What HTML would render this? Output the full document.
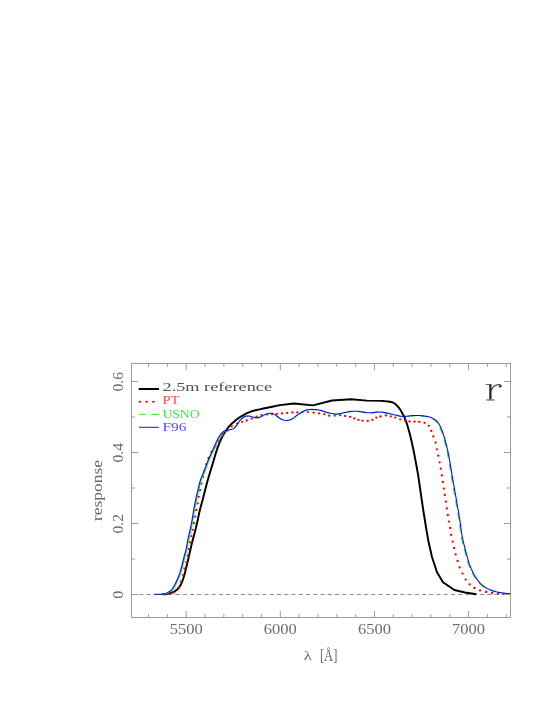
<!DOCTYPE html>
<html><head><meta charset="utf-8"><title>r</title><style>html,body{margin:0;padding:0;background:#fff}body{width:545px;height:705px;overflow:hidden}</style></head><body><div style="will-change:transform;width:545px;height:705px">
<svg width="545" height="705" viewBox="0 0 545 705" style="display:block">
<path d="M131.50,594.5 H510.50" stroke="#8c8c8c" stroke-width="1" stroke-dasharray="4.1 3.15" stroke-dashoffset="-0.5" fill="none"/>
<path d="M162.10,594.40 L162.40,594.39 L162.79,594.39 L163.25,594.39 L163.77,594.38 L164.32,594.36 L164.89,594.33 L165.46,594.28 L166.00,594.20 L166.54,594.09 L167.09,593.96 L167.66,593.81 L168.23,593.64 L168.81,593.47 L169.38,593.28 L169.95,593.09 L170.50,592.90 L171.04,592.72 L171.57,592.55 L172.10,592.37 L172.62,592.19 L173.14,591.99 L173.66,591.76 L174.18,591.50 L174.70,591.20 L175.23,590.87 L175.77,590.51 L176.31,590.14 L176.86,589.73 L177.39,589.29 L177.91,588.81 L178.42,588.28 L178.90,587.70 L179.36,587.06 L179.82,586.34 L180.26,585.58 L180.68,584.78 L181.09,583.96 L181.48,583.13 L181.85,582.30 L182.20,581.50 L182.52,580.71 L182.82,579.91 L183.09,579.11 L183.35,578.31 L183.59,577.51 L183.83,576.70 L184.06,575.90 L184.30,575.10 L184.53,574.30 L184.76,573.50 L184.98,572.70 L185.19,571.90 L185.39,571.10 L185.60,570.30 L185.80,569.50 L186.00,568.70 L186.20,567.90 L186.39,567.10 L186.58,566.31 L186.76,565.51 L186.95,564.71 L187.13,563.91 L187.31,563.11 L187.50,562.30 L187.69,561.49 L187.87,560.67 L188.06,559.85 L188.24,559.02 L188.43,558.20 L188.62,557.37 L188.81,556.54 L189.00,555.70 L189.20,554.86 L189.40,554.01 L189.60,553.15 L189.80,552.29 L190.00,551.44 L190.20,550.58 L190.40,549.74 L190.60,548.90 L190.78,548.13 L190.93,547.44 L191.07,546.79 L191.21,546.12 L191.37,545.40 L191.57,544.57 L191.80,543.59 L192.10,542.40 L192.46,541.00 L192.88,539.44 L193.35,537.74 L193.84,535.92 L194.36,534.01 L194.88,532.04 L195.40,530.03 L195.90,528.00 L196.40,525.87 L196.92,523.57 L197.44,521.17 L197.97,518.73 L198.49,516.33 L198.99,514.03 L199.46,511.90 L199.90,510.00 L200.28,508.42 L200.61,507.13 L200.91,506.03 L201.19,505.03 L201.48,504.01 L201.79,502.88 L202.16,501.54 L202.60,499.90 L203.12,497.91 L203.69,495.67 L204.32,493.23 L204.97,490.67 L205.64,488.07 L206.31,485.50 L206.97,483.01 L207.60,480.70 L208.21,478.54 L208.81,476.46 L209.41,474.44 L210.00,472.46 L210.59,470.51 L211.19,468.56 L211.79,466.60 L212.40,464.60 L213.01,462.55 L213.63,460.46 L214.26,458.35 L214.88,456.25 L215.51,454.18 L216.14,452.16 L216.77,450.23 L217.40,448.40 L218.03,446.67 L218.65,445.02 L219.27,443.43 L219.89,441.91 L220.52,440.44 L221.16,439.02 L221.82,437.64 L222.50,436.30 L223.21,435.00 L223.93,433.74 L224.68,432.53 L225.44,431.37 L226.20,430.25 L226.97,429.19 L227.74,428.17 L228.50,427.20 L229.25,426.30 L230.00,425.46 L230.74,424.68 L231.49,423.95 L232.24,423.25 L233.01,422.56 L233.79,421.89 L234.60,421.20 L235.42,420.51 L236.24,419.85 L237.07,419.19 L237.91,418.55 L238.78,417.92 L239.68,417.30 L240.62,416.70 L241.60,416.10 L242.63,415.50 L243.70,414.91 L244.81,414.32 L245.96,413.74 L247.12,413.19 L248.31,412.66 L249.50,412.16 L250.70,411.70 L251.91,411.29 L253.15,410.91 L254.41,410.57 L255.69,410.26 L256.97,409.96 L258.25,409.67 L259.53,409.39 L260.80,409.10 L262.07,408.81 L263.35,408.54 L264.63,408.27 L265.91,408.01 L267.19,407.75 L268.45,407.50 L269.69,407.25 L270.90,407.00 L272.15,406.74 L273.46,406.47 L274.79,406.19 L276.08,405.92 L277.30,405.66 L278.39,405.44 L279.30,405.25 L280.00,405.10 L294.00,403.50 L313.00,405.40 L332.00,400.50 L351.00,399.30 L367.00,400.60 L382.10,400.90 L382.91,400.99 L384.03,401.10 L385.37,401.23 L386.84,401.38 L388.34,401.55 L389.80,401.76 L391.11,402.01 L392.20,402.30 L393.08,402.63 L393.83,403.00 L394.49,403.41 L395.07,403.84 L395.62,404.31 L396.13,404.81 L396.65,405.34 L397.20,405.90 L397.76,406.48 L398.29,407.08 L398.81,407.71 L399.31,408.37 L399.81,409.07 L400.30,409.80 L400.80,410.58 L401.30,411.40 L401.81,412.27 L402.33,413.20 L402.85,414.17 L403.37,415.17 L403.88,416.21 L404.37,417.26 L404.85,418.33 L405.30,419.40 L405.72,420.46 L406.12,421.53 L406.49,422.60 L406.86,423.69 L407.21,424.82 L407.57,425.99 L407.93,427.21 L408.30,428.50 L408.69,429.87 L409.08,431.31 L409.48,432.82 L409.88,434.36 L410.27,435.93 L410.66,437.50 L411.04,439.07 L411.40,440.60 L411.74,442.08 L412.07,443.51 L412.39,444.91 L412.69,446.33 L413.00,447.79 L413.32,449.32 L413.65,450.94 L414.00,452.70 L414.38,454.65 L414.79,456.80 L415.22,459.08 L415.66,461.41 L416.08,463.73 L416.49,465.97 L416.87,468.05 L417.20,469.90 L417.47,471.42 L417.69,472.63 L417.87,473.66 L418.03,474.61 L418.20,475.62 L418.38,476.81 L418.61,478.29 L418.90,480.20 L419.25,482.57 L419.65,485.32 L420.08,488.34 L420.54,491.56 L421.01,494.86 L421.48,498.16 L421.95,501.38 L422.40,504.40 L422.85,507.33 L423.30,510.29 L423.77,513.25 L424.22,516.16 L424.68,518.99 L425.11,521.70 L425.52,524.25 L425.90,526.60 L426.26,528.80 L426.61,530.92 L426.95,532.93 L427.27,534.79 L427.56,536.47 L427.81,537.96 L428.03,539.21 L428.20,540.20 L432.00,557.00 L437.00,572.20 L443.00,582.20 L454.40,590.00 L465.00,592.50 L476.40,594.20" stroke="#000" stroke-width="1.95" fill="none" stroke-linejoin="round" stroke-linecap="butt"/>
<ellipse cx="167.60" cy="593.60" rx="1.2" ry="1.15" fill="#ff0000"/>
<ellipse cx="173.80" cy="592.60" rx="1.2" ry="1.15" fill="#ff0000"/>
<ellipse cx="178.30" cy="587.70" rx="1.2" ry="1.15" fill="#ff0000"/>
<ellipse cx="181.10" cy="581.50" rx="1.2" ry="1.15" fill="#ff0000"/>
<ellipse cx="183.00" cy="575.10" rx="1.2" ry="1.15" fill="#ff0000"/>
<ellipse cx="184.60" cy="568.70" rx="1.2" ry="1.15" fill="#ff0000"/>
<ellipse cx="186.20" cy="562.30" rx="1.2" ry="1.15" fill="#ff0000"/>
<ellipse cx="187.70" cy="555.70" rx="1.2" ry="1.15" fill="#ff0000"/>
<ellipse cx="188.90" cy="548.90" rx="1.2" ry="1.15" fill="#ff0000"/>
<ellipse cx="190.20" cy="542.40" rx="1.2" ry="1.15" fill="#ff0000"/>
<ellipse cx="191.50" cy="536.20" rx="1.2" ry="1.15" fill="#ff0000"/>
<ellipse cx="192.70" cy="529.80" rx="1.2" ry="1.15" fill="#ff0000"/>
<ellipse cx="193.90" cy="523.20" rx="1.2" ry="1.15" fill="#ff0000"/>
<ellipse cx="195.10" cy="516.60" rx="1.2" ry="1.15" fill="#ff0000"/>
<ellipse cx="196.40" cy="510.00" rx="1.2" ry="1.15" fill="#ff0000"/>
<ellipse cx="197.60" cy="503.40" rx="1.2" ry="1.15" fill="#ff0000"/>
<ellipse cx="198.80" cy="496.80" rx="1.2" ry="1.15" fill="#ff0000"/>
<ellipse cx="200.00" cy="490.20" rx="1.2" ry="1.15" fill="#ff0000"/>
<ellipse cx="201.40" cy="483.60" rx="1.2" ry="1.15" fill="#ff0000"/>
<ellipse cx="203.10" cy="476.80" rx="1.2" ry="1.15" fill="#ff0000"/>
<ellipse cx="204.60" cy="470.60" rx="1.2" ry="1.15" fill="#ff0000"/>
<ellipse cx="206.40" cy="464.20" rx="1.2" ry="1.15" fill="#ff0000"/>
<ellipse cx="208.50" cy="457.90" rx="1.2" ry="1.15" fill="#ff0000"/>
<ellipse cx="211.50" cy="451.80" rx="1.2" ry="1.15" fill="#ff0000"/>
<ellipse cx="215.40" cy="446.40" rx="1.2" ry="1.15" fill="#ff0000"/>
<ellipse cx="219.10" cy="441.00" rx="1.2" ry="1.15" fill="#ff0000"/>
<ellipse cx="222.90" cy="435.70" rx="1.2" ry="1.15" fill="#ff0000"/>
<ellipse cx="226.80" cy="431.00" rx="1.2" ry="1.15" fill="#ff0000"/>
<ellipse cx="231.70" cy="426.40" rx="1.2" ry="1.15" fill="#ff0000"/>
<ellipse cx="237.10" cy="423.60" rx="1.2" ry="1.15" fill="#ff0000"/>
<ellipse cx="242.00" cy="421.80" rx="1.2" ry="1.15" fill="#ff0000"/>
<ellipse cx="246.70" cy="420.50" rx="1.2" ry="1.15" fill="#ff0000"/>
<ellipse cx="251.65" cy="418.70" rx="1.2" ry="1.15" fill="#ff0000"/>
<ellipse cx="256.60" cy="416.70" rx="1.2" ry="1.15" fill="#ff0000"/>
<ellipse cx="261.56" cy="414.90" rx="1.2" ry="1.15" fill="#ff0000"/>
<ellipse cx="267.07" cy="414.60" rx="1.2" ry="1.15" fill="#ff0000"/>
<ellipse cx="272.00" cy="414.30" rx="1.2" ry="1.15" fill="#ff0000"/>
<ellipse cx="276.97" cy="413.80" rx="1.2" ry="1.15" fill="#ff0000"/>
<ellipse cx="281.90" cy="413.40" rx="1.2" ry="1.15" fill="#ff0000"/>
<ellipse cx="287.20" cy="413.00" rx="1.2" ry="1.15" fill="#ff0000"/>
<ellipse cx="292.40" cy="412.40" rx="1.2" ry="1.15" fill="#ff0000"/>
<ellipse cx="297.30" cy="412.40" rx="1.2" ry="1.15" fill="#ff0000"/>
<ellipse cx="302.60" cy="412.10" rx="1.2" ry="1.15" fill="#ff0000"/>
<ellipse cx="307.75" cy="412.10" rx="1.2" ry="1.15" fill="#ff0000"/>
<ellipse cx="313.60" cy="412.70" rx="1.2" ry="1.15" fill="#ff0000"/>
<ellipse cx="319.10" cy="413.40" rx="1.2" ry="1.15" fill="#ff0000"/>
<ellipse cx="324.30" cy="414.30" rx="1.2" ry="1.15" fill="#ff0000"/>
<ellipse cx="329.20" cy="415.70" rx="1.2" ry="1.15" fill="#ff0000"/>
<ellipse cx="334.70" cy="415.60" rx="1.2" ry="1.15" fill="#ff0000"/>
<ellipse cx="340.20" cy="415.20" rx="1.2" ry="1.15" fill="#ff0000"/>
<ellipse cx="345.20" cy="416.00" rx="1.2" ry="1.15" fill="#ff0000"/>
<ellipse cx="350.10" cy="416.80" rx="1.2" ry="1.15" fill="#ff0000"/>
<ellipse cx="354.20" cy="418.40" rx="1.2" ry="1.15" fill="#ff0000"/>
<ellipse cx="358.40" cy="419.80" rx="1.2" ry="1.15" fill="#ff0000"/>
<ellipse cx="362.50" cy="420.70" rx="1.2" ry="1.15" fill="#ff0000"/>
<ellipse cx="367.70" cy="420.90" rx="1.2" ry="1.15" fill="#ff0000"/>
<ellipse cx="372.30" cy="419.80" rx="1.2" ry="1.15" fill="#ff0000"/>
<ellipse cx="376.30" cy="417.60" rx="1.2" ry="1.15" fill="#ff0000"/>
<ellipse cx="380.40" cy="416.50" rx="1.2" ry="1.15" fill="#ff0000"/>
<ellipse cx="385.90" cy="415.40" rx="1.2" ry="1.15" fill="#ff0000"/>
<ellipse cx="390.80" cy="416.30" rx="1.2" ry="1.15" fill="#ff0000"/>
<ellipse cx="395.20" cy="417.60" rx="1.2" ry="1.15" fill="#ff0000"/>
<ellipse cx="400.20" cy="419.30" rx="1.2" ry="1.15" fill="#ff0000"/>
<ellipse cx="405.10" cy="420.70" rx="1.2" ry="1.15" fill="#ff0000"/>
<ellipse cx="409.50" cy="421.50" rx="1.2" ry="1.15" fill="#ff0000"/>
<ellipse cx="414.50" cy="421.70" rx="1.2" ry="1.15" fill="#ff0000"/>
<ellipse cx="419.30" cy="421.90" rx="1.2" ry="1.15" fill="#ff0000"/>
<ellipse cx="424.60" cy="422.80" rx="1.2" ry="1.15" fill="#ff0000"/>
<ellipse cx="428.80" cy="425.80" rx="1.2" ry="1.15" fill="#ff0000"/>
<ellipse cx="431.30" cy="430.90" rx="1.2" ry="1.15" fill="#ff0000"/>
<ellipse cx="433.30" cy="436.40" rx="1.2" ry="1.15" fill="#ff0000"/>
<ellipse cx="435.60" cy="442.60" rx="1.2" ry="1.15" fill="#ff0000"/>
<ellipse cx="437.00" cy="449.30" rx="1.2" ry="1.15" fill="#ff0000"/>
<ellipse cx="438.20" cy="455.70" rx="1.2" ry="1.15" fill="#ff0000"/>
<ellipse cx="439.60" cy="462.30" rx="1.2" ry="1.15" fill="#ff0000"/>
<ellipse cx="440.80" cy="468.70" rx="1.2" ry="1.15" fill="#ff0000"/>
<ellipse cx="441.80" cy="475.40" rx="1.2" ry="1.15" fill="#ff0000"/>
<ellipse cx="442.80" cy="482.00" rx="1.2" ry="1.15" fill="#ff0000"/>
<ellipse cx="443.80" cy="488.60" rx="1.2" ry="1.15" fill="#ff0000"/>
<ellipse cx="444.80" cy="495.00" rx="1.2" ry="1.15" fill="#ff0000"/>
<ellipse cx="445.80" cy="501.70" rx="1.2" ry="1.15" fill="#ff0000"/>
<ellipse cx="446.80" cy="508.40" rx="1.2" ry="1.15" fill="#ff0000"/>
<ellipse cx="447.80" cy="515.00" rx="1.2" ry="1.15" fill="#ff0000"/>
<ellipse cx="449.00" cy="521.60" rx="1.2" ry="1.15" fill="#ff0000"/>
<ellipse cx="450.00" cy="528.00" rx="1.2" ry="1.15" fill="#ff0000"/>
<ellipse cx="451.20" cy="535.00" rx="1.2" ry="1.15" fill="#ff0000"/>
<ellipse cx="452.60" cy="541.60" rx="1.2" ry="1.15" fill="#ff0000"/>
<ellipse cx="454.00" cy="548.00" rx="1.2" ry="1.15" fill="#ff0000"/>
<ellipse cx="455.60" cy="554.40" rx="1.2" ry="1.15" fill="#ff0000"/>
<ellipse cx="457.60" cy="561.00" rx="1.2" ry="1.15" fill="#ff0000"/>
<ellipse cx="459.60" cy="567.40" rx="1.2" ry="1.15" fill="#ff0000"/>
<ellipse cx="462.40" cy="573.60" rx="1.2" ry="1.15" fill="#ff0000"/>
<ellipse cx="465.60" cy="579.60" rx="1.2" ry="1.15" fill="#ff0000"/>
<ellipse cx="469.60" cy="584.40" rx="1.2" ry="1.15" fill="#ff0000"/>
<ellipse cx="474.40" cy="588.00" rx="1.2" ry="1.15" fill="#ff0000"/>
<ellipse cx="480.00" cy="590.40" rx="1.2" ry="1.15" fill="#ff0000"/>
<ellipse cx="486.00" cy="592.00" rx="1.2" ry="1.15" fill="#ff0000"/>
<ellipse cx="492.00" cy="593.00" rx="1.2" ry="1.15" fill="#ff0000"/>
<ellipse cx="498.00" cy="593.60" rx="1.2" ry="1.15" fill="#ff0000"/>
<ellipse cx="504.00" cy="594.00" rx="1.2" ry="1.15" fill="#ff0000"/>
<ellipse cx="509.40" cy="594.10" rx="1.2" ry="1.15" fill="#ff0000"/>
<path d="M154.85,594.50 L155.32,594.50 L155.95,594.49 L156.70,594.49 L157.54,594.48 L158.41,594.47 L159.28,594.46 L160.11,594.43 L160.85,594.40 L161.52,594.37 L162.17,594.35 L162.80,594.34 L163.41,594.31 L164.02,594.27 L164.62,594.19 L165.23,594.07 L165.85,593.90 L166.49,593.67 L167.15,593.39 L167.81,593.08 L168.47,592.73 L169.12,592.35 L169.74,591.97 L170.32,591.58 L170.85,591.20 L171.32,590.83 L171.75,590.46 L172.13,590.09 L172.49,589.70 L172.83,589.30 L173.16,588.87 L173.50,588.40 L173.85,587.90 L174.20,587.37 L174.55,586.83 L174.88,586.27 L175.21,585.68 L175.55,585.05 L175.90,584.36 L176.26,583.62 L176.65,582.80 L177.07,581.89 L177.52,580.89 L177.99,579.83 L178.47,578.71 L178.95,577.57 L179.41,576.43 L179.85,575.29 L180.25,574.20 L180.62,573.13 L180.96,572.07 L181.29,571.01 L181.59,569.94 L181.89,568.88 L182.18,567.82 L182.46,566.76 L182.75,565.70 L183.03,564.64 L183.30,563.58 L183.56,562.51 L183.82,561.45 L184.07,560.39 L184.33,559.33 L184.59,558.26 L184.85,557.20 L185.12,556.14 L185.41,555.08 L185.69,554.01 L185.98,552.95 L186.26,551.89 L186.54,550.83 L186.80,549.76 L187.05,548.70 L187.27,547.69 L187.45,546.75 L187.61,545.84 L187.77,544.92 L187.94,543.94 L188.13,542.85 L188.36,541.62 L188.65,540.20 L189.00,538.57 L189.40,536.77 L189.84,534.84 L190.31,532.79 L190.78,530.68 L191.26,528.52 L191.72,526.35 L192.15,524.20 L192.56,522.02 L192.96,519.75 L193.35,517.42 L193.73,515.08 L194.11,512.74 L194.49,510.47 L194.87,508.27 L195.25,506.20 L195.63,504.24 L196.01,502.37 L196.38,500.56 L196.76,498.81 L197.13,497.11 L197.50,495.45 L197.88,493.82 L198.25,492.20 L198.63,490.59 L199.01,488.98 L199.39,487.40 L199.77,485.86 L200.15,484.37 L200.52,482.95 L200.89,481.63 L201.25,480.40 L201.60,479.30 L201.95,478.32 L202.29,477.43 L202.63,476.61 L202.97,475.84 L203.30,475.07 L203.62,474.31 L203.95,473.50 L204.27,472.68 L204.58,471.88 L204.89,471.09 L205.20,470.31 L205.51,469.53 L205.82,468.74 L206.13,467.93 L206.45,467.10 L206.77,466.25 L207.09,465.40 L207.41,464.53 L207.73,463.66 L208.06,462.77 L208.41,461.86 L208.77,460.94 L209.15,460.00 L209.56,459.03 L209.99,458.04 L210.44,457.02 L210.90,455.99 L211.37,454.95 L211.84,453.92 L212.30,452.90 L212.75,451.90 L213.20,450.91 L213.65,449.91 L214.10,448.91 L214.54,447.92 L214.99,446.95 L215.42,446.00 L215.84,445.08 L216.25,444.20 L216.64,443.35 L217.02,442.53 L217.39,441.74 L217.76,440.97 L218.11,440.23 L218.46,439.52 L218.81,438.84 L219.15,438.20 L219.49,437.59 L219.83,437.02 L220.16,436.48 L220.48,435.97 L220.80,435.49 L221.12,435.03 L221.44,434.60 L221.75,434.20 L222.06,433.82 L222.37,433.48 L222.67,433.16 L222.12,433.02 L222.42,432.76 L222.71,432.51 L223.01,432.27 L223.30,432.05 L223.58,431.84 L223.84,431.66 M224.10,431.50 L224.55,431.25 L225.03,431.05 L225.52,430.88 L226.02,430.74 L226.53,430.64 L227.04,430.56 L227.55,430.48 L228.07,430.41 L228.58,430.33 L229.09,430.24 L229.59,430.13 M234.49,428.13 L234.84,427.77 L235.17,427.39 L235.49,427.01 L235.81,426.62 L236.11,426.22 L236.42,425.83 L236.73,425.44 L237.03,425.04 L237.33,424.63 L237.61,424.22 L237.89,423.81 L238.16,423.39 L238.43,422.97 L238.71,422.55 M242.24,418.49 L242.62,418.17 L243.02,417.87 L243.42,417.58 L243.84,417.31 L244.27,417.06 L244.72,416.83 L245.19,416.65 L245.66,416.50 L246.15,416.40 L246.65,416.34 L247.15,416.31 L247.65,416.32 L248.15,416.34 L248.65,416.39 M253.87,417.68 L254.36,417.76 L254.86,417.84 L255.35,417.92 L255.85,417.98 L256.35,418.02 L256.85,418.03 L257.35,418.02 L257.84,417.98 L258.34,417.90 L258.82,417.78 L259.30,417.64 L259.77,417.46 L260.23,417.27 L260.69,417.07 M265.57,414.77 L266.03,414.57 L266.50,414.39 L266.97,414.23 L267.45,414.09 L267.93,413.95 L268.42,413.83 L268.91,413.73 L269.40,413.64 L269.89,413.58 L270.39,413.54 L270.89,413.53 L271.39,413.56 L271.89,413.64 L272.37,413.76 M276.98,416.51 L277.40,416.85 L277.82,417.19 L278.24,417.52 L278.67,417.84 L279.12,418.15 L279.57,418.44 L280.03,418.71 L280.51,418.96 L280.99,419.21 L281.47,419.45 L281.96,419.67 L282.45,419.89 L282.95,420.10 M288.23,420.64 L288.71,420.52 L289.20,420.39 L289.67,420.23 L290.14,420.06 L290.61,419.88 L291.07,419.68 L291.52,419.48 L291.97,419.26 L292.42,419.03 L292.85,418.78 L293.27,418.52 L293.69,418.24 L294.09,417.94 L294.49,417.64 M298.82,414.41 L299.24,414.14 L299.65,413.87 L300.07,413.59 L300.49,413.32 L300.91,413.05 L301.34,412.79 L301.76,412.52 L302.19,412.27 L302.62,412.02 L303.06,411.78 L303.50,411.54 L303.95,411.32 L304.41,411.11 L304.87,410.92 M310.13,409.82 L310.63,409.79 L311.13,409.77 L311.63,409.76 L312.13,409.75 L312.63,409.75 L313.13,409.76 L313.63,409.78 L314.13,409.81 L314.63,409.85 L315.12,409.90 L315.62,409.95 L316.12,410.01 L316.61,410.07 L317.11,410.14 M322.39,411.25 L322.87,411.40 L323.34,411.55 L323.82,411.71 L324.29,411.87 L324.76,412.03 L325.24,412.19 L325.71,412.35 L326.19,412.50 L326.66,412.65 L327.14,412.79 L327.62,412.93 L328.11,413.05 L328.59,413.17 L329.08,413.28 M334.40,414.22 L334.90,414.27 L335.39,414.30 L335.89,414.33 L336.39,414.34 L336.89,414.34 L337.39,414.32 L337.89,414.28 L338.39,414.23 L338.88,414.16 L339.38,414.08 L339.87,413.98 L340.36,413.88 L340.84,413.77 L341.33,413.66 M346.61,412.50 L347.09,412.39 L347.58,412.28 L348.07,412.17 L348.56,412.07 L349.05,411.98 L349.54,411.90 L350.04,411.83 L350.53,411.77 L351.03,411.72 L351.53,411.68 L352.03,411.65 L352.53,411.62 L353.03,411.60 L353.53,411.59 M358.92,411.76 L359.42,411.82 L359.92,411.87 L360.41,411.94 L360.91,412.01 L361.40,412.09 L361.89,412.17 L362.39,412.25 L362.88,412.34 L363.37,412.43 L363.86,412.51 L364.36,412.60 L364.85,412.68 L365.34,412.76 L365.84,412.84 M371.22,413.07 L371.72,413.02 L372.21,412.97 L372.71,412.91 L373.20,412.84 L373.70,412.78 L374.20,412.71 L374.69,412.64 L375.19,412.58 L375.68,412.52 L376.18,412.46 L376.68,412.42 L377.18,412.38 L377.68,412.37 L378.18,412.35 M383.56,412.75 L384.05,412.82 L384.55,412.89 L385.04,412.97 L385.53,413.05 L386.03,413.14 L386.52,413.23 L387.01,413.33 L387.50,413.44 L387.98,413.55 L388.47,413.67 L388.95,413.80 L389.44,413.92 L389.92,414.06 L390.40,414.19 M395.65,415.47 L396.13,415.57 L396.62,415.68 L397.11,415.79 L397.60,415.90 L398.09,416.00 L398.58,416.10 L399.07,416.20 L399.56,416.29 L400.05,416.38 L400.55,416.46 L401.04,416.53 L401.54,416.59 L402.03,416.65 L402.53,416.69 M407.91,416.45 L408.41,416.38 L408.90,416.32 L409.40,416.25 L409.90,416.19 L410.39,416.13 L410.89,416.07 L411.39,416.02 L411.89,415.99 L412.38,415.95 L412.88,415.93 L413.38,415.91 L413.88,415.89 L414.38,415.87 L414.88,415.86 M420.28,415.94 L420.78,415.97 L421.28,416.01 L421.77,416.06 L422.27,416.11 L422.77,416.16 L423.27,416.21 L423.76,416.27 L424.26,416.34 L424.75,416.41 L425.25,416.48 L425.74,416.56 L426.23,416.65 L426.73,416.74 L427.21,416.85 M432.00,418.58 L432.44,418.80 L432.88,419.05 L433.31,419.31 L433.73,419.57 L434.14,419.86 L434.54,420.16 L434.93,420.48 L435.30,420.81 L435.66,421.16 L436.01,421.51 L436.35,421.88 L436.66,422.27 L436.98,422.66 L437.28,423.06 M439.91,427.76 L440.11,428.22 L440.30,428.68 L440.49,429.14 L440.68,429.60 L440.87,430.07 L441.05,430.53 L441.23,431.00 L441.41,431.47 L441.58,431.94 L441.75,432.41 L441.92,432.88 L442.09,433.35 L442.25,433.82 L442.41,434.30 M444.00,439.46 L444.13,439.94 L444.26,440.42 L444.39,440.90 L444.52,441.39 L444.65,441.87 L444.77,442.35 L444.90,442.84 L445.02,443.32 L445.14,443.81 L445.26,444.29 L445.38,444.78 L445.50,445.27 L445.61,445.75 L445.73,446.24 M446.95,451.50 L447.05,451.99 L447.16,452.48 L447.27,452.96 L447.38,453.45 L447.48,453.94 L447.58,454.43 L447.68,454.92 L447.78,455.41 L447.88,455.90 L447.97,456.39 L448.06,456.88 L448.16,457.38 L448.25,457.87 L448.34,458.36 M449.27,463.68 L449.35,464.17 L449.43,464.67 L449.51,465.16 L449.59,465.65 L449.67,466.15 L449.75,466.64 L449.83,467.13 L449.91,467.63 L449.99,468.12 L450.07,468.61 L450.15,469.11 L450.23,469.60 L450.31,470.09 L450.39,470.59 M451.26,475.92 L451.34,476.41 L451.42,476.90 L451.50,477.40 L451.58,477.89 L451.67,478.38 L451.75,478.88 L451.83,479.37 L451.92,479.86 L452.00,480.36 L452.09,480.85 L452.17,481.34 L452.26,481.83 L452.34,482.33 L452.43,482.82 M453.38,488.14 L453.47,488.63 L453.55,489.12 L453.64,489.61 L453.73,490.10 L453.82,490.60 L453.91,491.09 L454.00,491.58 L454.09,492.07 L454.18,492.56 L454.27,493.06 L454.36,493.55 L454.44,494.04 L454.53,494.53 L454.62,495.02 M455.56,500.34 L455.65,500.83 L455.73,501.33 L455.82,501.82 L455.91,502.31 L455.99,502.80 L456.08,503.30 L456.16,503.79 L456.25,504.28 L456.33,504.77 L456.42,505.27 L456.50,505.76 L456.59,506.25 L456.67,506.75 L456.76,507.24 M457.67,512.56 L457.75,513.05 L457.84,513.55 L457.92,514.04 L458.00,514.53 L458.09,515.03 L458.17,515.52 L458.25,516.01 L458.33,516.51 L458.41,517.00 L458.49,517.49 L458.57,517.99 L458.65,518.48 L458.73,518.97 L458.81,519.47 M459.59,524.81 L459.66,525.31 L459.72,525.80 L459.78,526.30 L459.85,526.79 L459.91,527.29 L459.97,527.79 L460.03,528.28 L460.09,528.78 L460.16,529.27 L460.22,529.77 L460.28,530.27 L460.35,530.76 L460.42,531.26 L460.48,531.75 M461.36,537.08 L461.46,537.57 L461.56,538.06 L461.66,538.55 L461.77,539.04 L461.87,539.53 L461.98,540.02 L462.09,540.50 L462.20,540.99 L462.31,541.48 L462.43,541.96 L462.55,542.45 L462.66,542.94 L462.78,543.42 L462.90,543.91 M464.26,549.14 L464.38,549.62 L464.51,550.10 L464.64,550.59 L464.76,551.07 L464.89,551.55 L465.01,552.04 L465.14,552.52 L465.26,553.01 L465.39,553.49 L465.51,553.97 L465.64,554.46 L465.76,554.94 L465.89,555.43 L466.02,555.91 M467.47,561.11 L467.62,561.59 L467.77,562.06 L467.92,562.54 L468.07,563.02 L468.24,563.49 L468.40,563.96 L468.56,564.44 L468.73,564.91 L468.91,565.37 L469.08,565.84 L469.26,566.31 L469.45,566.77 L469.63,567.24 L469.82,567.70 M472.06,572.61 L472.29,573.06 L472.52,573.50 L472.75,573.94 L472.99,574.38 L473.23,574.82 L473.48,575.26 L473.72,575.69 L473.98,576.12 L474.24,576.55 L474.50,576.98 L474.77,577.40 L475.04,577.82 L475.32,578.23 L475.60,578.65 M478.92,582.90 L479.26,583.27 L479.60,583.64 L479.94,583.99 L480.30,584.35 L480.66,584.69 L481.03,585.03 L481.40,585.36 L481.79,585.68 L482.18,585.99 L482.57,586.30 L482.98,586.59 L483.39,586.88 L483.81,587.15 L484.23,587.42 M489.05,589.84 L489.52,590.01 L489.99,590.18 L490.46,590.35 L490.93,590.51 L491.40,590.67 L491.88,590.82 L492.36,590.98 L492.83,591.13 L493.31,591.28 L493.79,591.43 L494.27,591.57 L494.75,591.71 L495.23,591.84 L495.71,591.97 M501.01,593.01 L501.50,593.07 L502.00,593.13 L502.49,593.19 L502.99,593.24 L503.49,593.30 L503.99,593.35 L504.48,593.40 L504.98,593.45 L505.48,593.49 L505.98,593.54 L506.48,593.58 L506.97,593.63 L507.47,593.67 L507.97,593.72" stroke="#14f014" stroke-width="1.05" fill="none"/>
<path d="M154.00,594.30 L154.47,594.30 L155.10,594.29 L155.85,594.29 L156.69,594.28 L157.56,594.27 L158.43,594.26 L159.26,594.23 L160.00,594.20 L160.67,594.17 L161.32,594.15 L161.95,594.14 L162.56,594.11 L163.17,594.07 L163.77,593.99 L164.38,593.87 L165.00,593.70 L165.64,593.47 L166.30,593.19 L166.96,592.88 L167.62,592.53 L168.27,592.15 L168.89,591.77 L169.47,591.38 L170.00,591.00 L170.47,590.63 L170.90,590.26 L171.28,589.89 L171.64,589.50 L171.98,589.10 L172.31,588.67 L172.65,588.20 L173.00,587.70 L173.35,587.17 L173.70,586.63 L174.03,586.07 L174.36,585.48 L174.70,584.85 L175.05,584.16 L175.41,583.42 L175.80,582.60 L176.22,581.69 L176.67,580.69 L177.14,579.63 L177.62,578.51 L178.10,577.37 L178.56,576.23 L179.00,575.09 L179.40,574.00 L179.77,572.93 L180.11,571.87 L180.44,570.81 L180.74,569.74 L181.04,568.68 L181.33,567.62 L181.61,566.56 L181.90,565.50 L182.18,564.44 L182.45,563.38 L182.71,562.31 L182.97,561.25 L183.22,560.19 L183.48,559.12 L183.74,558.06 L184.00,557.00 L184.27,555.94 L184.56,554.88 L184.84,553.81 L185.13,552.75 L185.41,551.69 L185.69,550.62 L185.95,549.56 L186.20,548.50 L186.42,547.49 L186.60,546.55 L186.76,545.64 L186.92,544.72 L187.09,543.74 L187.28,542.65 L187.51,541.42 L187.80,540.00 L188.15,538.37 L188.55,536.57 L188.99,534.64 L189.46,532.59 L189.93,530.48 L190.41,528.32 L190.87,526.15 L191.30,524.00 L191.71,521.82 L192.11,519.55 L192.50,517.22 L192.88,514.88 L193.26,512.54 L193.64,510.27 L194.02,508.07 L194.40,506.00 L194.78,504.04 L195.16,502.17 L195.53,500.36 L195.91,498.61 L196.28,496.91 L196.65,495.25 L197.03,493.62 L197.40,492.00 L197.78,490.39 L198.16,488.78 L198.54,487.20 L198.92,485.66 L199.30,484.17 L199.67,482.75 L200.04,481.43 L200.40,480.20 L200.75,479.10 L201.10,478.12 L201.44,477.23 L201.78,476.41 L202.12,475.64 L202.45,474.88 L202.77,474.11 L203.10,473.30 L203.42,472.48 L203.73,471.68 L204.04,470.89 L204.35,470.11 L204.66,469.33 L204.97,468.54 L205.28,467.73 L205.60,466.90 L205.92,466.05 L206.24,465.20 L206.56,464.33 L206.88,463.46 L207.21,462.57 L207.56,461.66 L207.92,460.74 L208.30,459.80 L208.71,458.83 L209.14,457.84 L209.59,456.82 L210.05,455.79 L210.52,454.75 L210.99,453.72 L211.45,452.70 L211.90,451.70 L212.35,450.71 L212.80,449.71 L213.25,448.71 L213.69,447.72 L214.14,446.75 L214.57,445.80 L214.99,444.88 L215.40,444.00 L215.79,443.15 L216.17,442.33 L216.54,441.54 L216.91,440.77 L217.26,440.03 L217.61,439.32 L217.96,438.64 L218.30,438.00 L218.64,437.39 L218.98,436.82 L219.31,436.28 L219.63,435.77 L219.95,435.29 L220.27,434.83 L220.59,434.40 L220.90,434.00 L221.21,433.62 L221.52,433.28 L221.82,432.96 L222.12,432.67 L222.42,432.41 L222.71,432.16 L223.01,431.92 L223.30,431.70 L223.58,431.49 L223.84,431.31 L224.10,431.15 L224.36,431.00 L224.62,430.87 L224.91,430.74 L225.24,430.62 L225.60,430.50 L226.01,430.39 L226.46,430.30 L226.94,430.22 L227.44,430.15 L227.96,430.08 L228.48,430.00 L229.00,429.91 L229.50,429.80 L230.00,429.69 L230.51,429.59 L231.02,429.49 L231.54,429.38 L232.05,429.25 L232.55,429.08 L233.03,428.87 L233.50,428.60 L233.94,428.28 L234.36,427.91 L234.77,427.50 L235.17,427.05 L235.56,426.57 L235.96,426.07 L236.37,425.54 L236.80,425.00 L237.24,424.41 L237.68,423.77 L238.13,423.09 L238.58,422.39 L239.04,421.69 L239.52,421.01 L240.00,420.37 L240.50,419.80 L241.02,419.27 L241.55,418.75 L242.10,418.26 L242.66,417.79 L243.22,417.37 L243.78,416.99 L244.35,416.66 L244.90,416.40 L245.45,416.20 L246.00,416.07 L246.55,415.99 L247.10,415.96 L247.65,415.97 L248.20,416.00 L248.75,416.04 L249.30,416.10 L249.85,416.18 L250.40,416.32 L250.95,416.48 L251.50,416.66 L252.05,416.85 L252.60,417.03 L253.15,417.18 L253.70,417.30 L254.25,417.39 L254.80,417.49 L255.35,417.57 L255.90,417.63 L256.45,417.67 L257.00,417.69 L257.55,417.66 L258.10,417.60 L258.65,417.49 L259.20,417.32 L259.75,417.12 L260.30,416.89 L260.85,416.65 L261.40,416.39 L261.95,416.14 L262.50,415.90 L263.05,415.66 L263.60,415.39 L264.15,415.11 L264.70,414.84 L265.25,414.57 L265.80,414.32 L266.35,414.09 L266.90,413.90 L267.45,413.74 L268.02,413.58 L268.58,413.45 L269.14,413.33 L269.70,413.24 L270.25,413.19 L270.78,413.17 L271.30,413.20 L271.79,413.27 L272.24,413.37 L272.68,413.50 L273.11,413.67 L273.54,413.88 L273.99,414.12 L274.48,414.39 L275.00,414.70 L275.56,415.07 L276.16,415.51 L276.77,416.00 L277.41,416.51 L278.06,417.03 L278.73,417.54 L279.41,418.00 L280.10,418.40 L280.81,418.77 L281.53,419.13 L282.28,419.47 L283.04,419.79 L283.80,420.06 L284.57,420.28 L285.34,420.43 L286.10,420.50 L286.86,420.49 L287.62,420.41 L288.38,420.26 L289.14,420.06 L289.91,419.80 L290.67,419.50 L291.44,419.17 L292.20,418.80 L292.96,418.38 L293.70,417.88 L294.45,417.33 L295.19,416.74 L295.95,416.14 L296.71,415.54 L297.49,414.95 L298.30,414.40 L299.13,413.86 L299.98,413.30 L300.85,412.74 L301.74,412.19 L302.63,411.66 L303.52,411.18 L304.41,410.75 L305.30,410.40 L306.18,410.12 L307.04,409.89 L307.91,409.72 L308.78,409.59 L309.66,409.50 L310.55,409.44 L311.46,409.41 L312.40,409.40 L313.37,409.42 L314.36,409.48 L315.37,409.57 L316.39,409.69 L317.43,409.83 L318.46,410.00 L319.49,410.19 L320.50,410.40 L321.50,410.64 L322.50,410.93 L323.50,411.25 L324.50,411.59 L325.50,411.93 L326.50,412.25 L327.50,412.55 L328.50,412.80 L329.51,413.02 L330.54,413.24 L331.57,413.44 L332.61,413.63 L333.63,413.78 L334.64,413.90 L335.63,413.97 L336.60,414.00 L337.54,413.97 L338.45,413.87 L339.34,413.73 L340.22,413.56 L341.09,413.37 L341.96,413.17 L342.82,412.98 L343.70,412.80 L344.57,412.62 L345.43,412.43 L346.28,412.23 L347.14,412.02 L348.00,411.83 L348.87,411.66 L349.77,411.51 L350.70,411.40 L351.65,411.32 L352.60,411.27 L353.57,411.24 L354.56,411.22 L355.57,411.24 L356.61,411.27 L357.68,411.32 L358.80,411.40 L359.97,411.52 L361.21,411.70 L362.48,411.92 L363.78,412.15 L365.09,412.37 L366.39,412.57 L367.67,412.72 L368.90,412.80 L370.10,412.79 L371.29,412.72 L372.47,412.59 L373.63,412.44 L374.78,412.28 L375.91,412.14 L377.01,412.04 L378.10,412.00 L379.16,412.02 L380.18,412.06 L381.18,412.13 L382.17,412.23 L383.15,412.34 L384.12,412.48 L385.10,412.63 L386.10,412.80 L387.10,413.00 L388.09,413.23 L389.09,413.48 L390.08,413.75 L391.08,414.03 L392.10,414.30 L393.14,414.56 L394.20,414.80 L395.29,415.04 L396.40,415.28 L397.54,415.53 L398.69,415.77 L399.84,415.99 L401.00,416.18 L402.16,416.32 L403.30,416.40 L404.44,416.41 L405.60,416.35 L406.76,416.24 L407.91,416.10 L409.06,415.95 L410.20,415.80 L411.31,415.68 L412.40,415.60 L413.46,415.55 L414.50,415.52 L415.52,415.49 L416.52,415.48 L417.51,415.48 L418.51,415.50 L419.50,415.54 L420.50,415.60 L421.52,415.68 L422.55,415.78 L423.59,415.90 L424.62,416.04 L425.64,416.19 L426.64,416.37 L427.59,416.57 L428.50,416.80 L429.37,417.05 L430.21,417.32 L431.02,417.61 L431.80,417.92 L432.55,418.25 L433.27,418.61 L433.95,418.99 L434.60,419.40 L435.21,419.83 L435.77,420.27 L436.30,420.74 L436.79,421.24 L437.27,421.76 L437.72,422.31 L438.16,422.89 L438.60,423.50 L439.02,424.14 L439.42,424.79 L439.79,425.47 L440.16,426.19 L440.51,426.94 L440.87,427.74 L441.23,428.59 L441.60,429.50 L441.98,430.47 L442.37,431.49 L442.76,432.55 L443.15,433.67 L443.54,434.83 L443.93,436.04 L444.32,437.30 L444.70,438.60 L445.09,439.98 L445.48,441.46 L445.88,443.01 L446.27,444.59 L446.65,446.18 L447.02,447.75 L447.37,449.26 L447.70,450.70 L447.99,451.99 L448.24,453.15 L448.47,454.23 L448.69,455.29 L448.91,456.42 L449.14,457.67 L449.40,459.11 L449.70,460.80 L450.04,462.77 L450.41,464.98 L450.79,467.36 L451.20,469.87 L451.62,472.46 L452.04,475.08 L452.47,477.67 L452.90,480.20 L453.33,482.69 L453.78,485.20 L454.23,487.72 L454.69,490.26 L455.15,492.80 L455.60,495.34 L456.06,497.87 L456.50,500.40 L456.94,502.95 L457.39,505.54 L457.84,508.14 L458.29,510.74 L458.72,513.30 L459.14,515.79 L459.53,518.20 L459.90,520.50 L460.22,522.67 L460.51,524.75 L460.76,526.74 L461.00,528.67 L461.24,530.55 L461.49,532.40 L461.78,534.25 L462.10,536.10 L462.46,537.94 L462.85,539.75 L463.26,541.53 L463.69,543.29 L464.13,545.04 L464.58,546.79 L465.04,548.54 L465.50,550.30 L465.96,552.09 L466.43,553.90 L466.91,555.73 L467.39,557.54 L467.89,559.34 L468.41,561.09 L468.94,562.78 L469.50,564.40 L470.08,565.95 L470.68,567.46 L471.29,568.91 L471.93,570.33 L472.57,571.69 L473.24,573.01 L473.91,574.28 L474.60,575.50 L475.31,576.68 L476.03,577.82 L476.78,578.91 L477.54,579.96 L478.30,580.95 L479.07,581.89 L479.84,582.78 L480.60,583.60 L481.35,584.35 L482.09,585.04 L482.84,585.66 L483.58,586.23 L484.33,586.76 L485.10,587.26 L485.89,587.74 L486.70,588.20 L487.54,588.64 L488.41,589.05 L489.29,589.43 L490.19,589.78 L491.10,590.11 L492.01,590.42 L492.91,590.71 L493.80,591.00 L494.66,591.27 L495.50,591.52 L496.32,591.75 L497.15,591.96 L498.00,592.16 L498.88,592.35 L499.81,592.53 L500.80,592.70 L501.93,592.87 L503.22,593.02 L504.60,593.17 L505.99,593.31 L507.32,593.43 L508.53,593.54 L509.55,593.63 L510.30,593.70" stroke="#0808ff" stroke-width="1.08" fill="none" stroke-linejoin="round"/>
<rect x="131.50" y="363.50" width="379.00" height="254.00" fill="none" stroke="#9c9c9c" stroke-width="1"/>
<path d="M148.55,617.50 v-3.30 M148.55,363.50 v3.30 M167.37,617.50 v-3.30 M167.37,363.50 v3.30 M186.20,617.50 v-6.60 M186.20,363.50 v6.60 M205.03,617.50 v-3.30 M205.03,363.50 v3.30 M223.85,617.50 v-3.30 M223.85,363.50 v3.30 M242.68,617.50 v-3.30 M242.68,363.50 v3.30 M261.51,617.50 v-3.30 M261.51,363.50 v3.30 M280.33,617.50 v-6.60 M280.33,363.50 v6.60 M299.16,617.50 v-3.30 M299.16,363.50 v3.30 M317.99,617.50 v-3.30 M317.99,363.50 v3.30 M336.82,617.50 v-3.30 M336.82,363.50 v3.30 M355.64,617.50 v-3.30 M355.64,363.50 v3.30 M374.47,617.50 v-6.60 M374.47,363.50 v6.60 M393.30,617.50 v-3.30 M393.30,363.50 v3.30 M412.12,617.50 v-3.30 M412.12,363.50 v3.30 M430.95,617.50 v-3.30 M430.95,363.50 v3.30 M449.78,617.50 v-3.30 M449.78,363.50 v3.30 M468.60,617.50 v-6.60 M468.60,363.50 v6.60 M487.43,617.50 v-3.30 M487.43,363.50 v3.30 M506.26,617.50 v-3.30 M506.26,363.50 v3.30 M131.50,594.50 h6.60 M510.50,594.50 h-6.60 M131.50,559.00 h3.50 M510.50,559.00 h-3.50 M131.50,523.50 h6.60 M510.50,523.50 h-6.60 M131.50,488.00 h3.50 M510.50,488.00 h-3.50 M131.50,452.50 h6.60 M510.50,452.50 h-6.60 M131.50,417.00 h3.50 M510.50,417.00 h-3.50 M131.50,381.50 h6.60 M510.50,381.50 h-6.60" stroke="#9c9c9c" stroke-width="1" fill="none"/>
<path d="M138.6,389 H159" stroke="#000" stroke-width="2"/>
<ellipse cx="139.80" cy="401.8" rx="1.35" ry="1.05" fill="#ff0000"/>
<ellipse cx="146.55" cy="401.8" rx="1.35" ry="1.05" fill="#ff0000"/>
<ellipse cx="153.30" cy="401.8" rx="1.35" ry="1.05" fill="#ff0000"/>
<path d="M139,414.4 H145.9 M151.4,414.4 H158.8" stroke="#22ee22" stroke-width="1"/>
<path d="M139,427.3 H158.8" stroke="#1010ff" stroke-width="1"/>
<g style="font-family:'Liberation Serif',serif;" font-size="12.4px">
<text x="162.5" y="391" fill="#505050" textLength="109.5" lengthAdjust="spacingAndGlyphs">2.5m reference</text>
<text x="162.5" y="404.2" fill="#ff4a4a" textLength="17" lengthAdjust="spacingAndGlyphs">PT</text>
<text x="162.5" y="417.6" fill="#40e840" textLength="37" lengthAdjust="spacingAndGlyphs">USNO</text>
<text x="162.5" y="430.6" fill="#4a4aff" textLength="24" lengthAdjust="spacingAndGlyphs">F96</text>
</g>
<g style="font-family:'Liberation Serif',serif;" fill="#6a6a6a" text-anchor="middle">
<text x="186.20" y="633.8" font-size="14.6px" textLength="33" lengthAdjust="spacingAndGlyphs">5500</text>
<text x="280.33" y="633.8" font-size="14.6px" textLength="33" lengthAdjust="spacingAndGlyphs">6000</text>
<text x="374.47" y="633.8" font-size="14.6px" textLength="33" lengthAdjust="spacingAndGlyphs">6500</text>
<text x="468.60" y="633.8" font-size="14.6px" textLength="33" lengthAdjust="spacingAndGlyphs">7000</text>
<text transform="translate(123,381.70) rotate(-90)" font-size="15.4px" textLength="19.6" lengthAdjust="spacingAndGlyphs">0.6</text>
<text transform="translate(123,452.70) rotate(-90)" font-size="15.4px" textLength="19.6" lengthAdjust="spacingAndGlyphs">0.4</text>
<text transform="translate(123,523.70) rotate(-90)" font-size="15.4px" textLength="19.6" lengthAdjust="spacingAndGlyphs">0.2</text>
<text transform="translate(123,594.70) rotate(-90)" font-size="15.4px" textLength="8.2" lengthAdjust="spacingAndGlyphs">0</text>
<text transform="translate(102.2,490.5) rotate(-90)" font-size="13.6px" textLength="61" lengthAdjust="spacingAndGlyphs">response</text>
<text x="307.8" y="660" font-size="13.4px" textLength="8" lengthAdjust="spacingAndGlyphs">λ</text>
<text x="328.7" y="660.6" font-size="16.5px" textLength="17.6" lengthAdjust="spacingAndGlyphs">[Å]</text>
</g>
<g fill="none" stroke-linecap="round">
<path d="M489.2,384.2 H491.55 V399.6 H489.2 Z" fill="#2b2b2b" stroke="none"/>
<path d="M486.1,384.45 H490" stroke="#333" stroke-width="0.75"/>
<path d="M486.3,399.95 H494.5" stroke="#5a5a5a" stroke-width="1.2" stroke-linecap="butt"/>
<path d="M491.3,390.4 C492.2,387.5 494.6,385.0 498,384.65 C500.2,384.45 501.5,385.3 501.2,386.4" stroke="#262626" stroke-width="1.05"/>
<circle cx="499.95" cy="386.55" r="1.15" fill="#333" stroke="none"/>
</g>
</svg>
</div></body></html>
